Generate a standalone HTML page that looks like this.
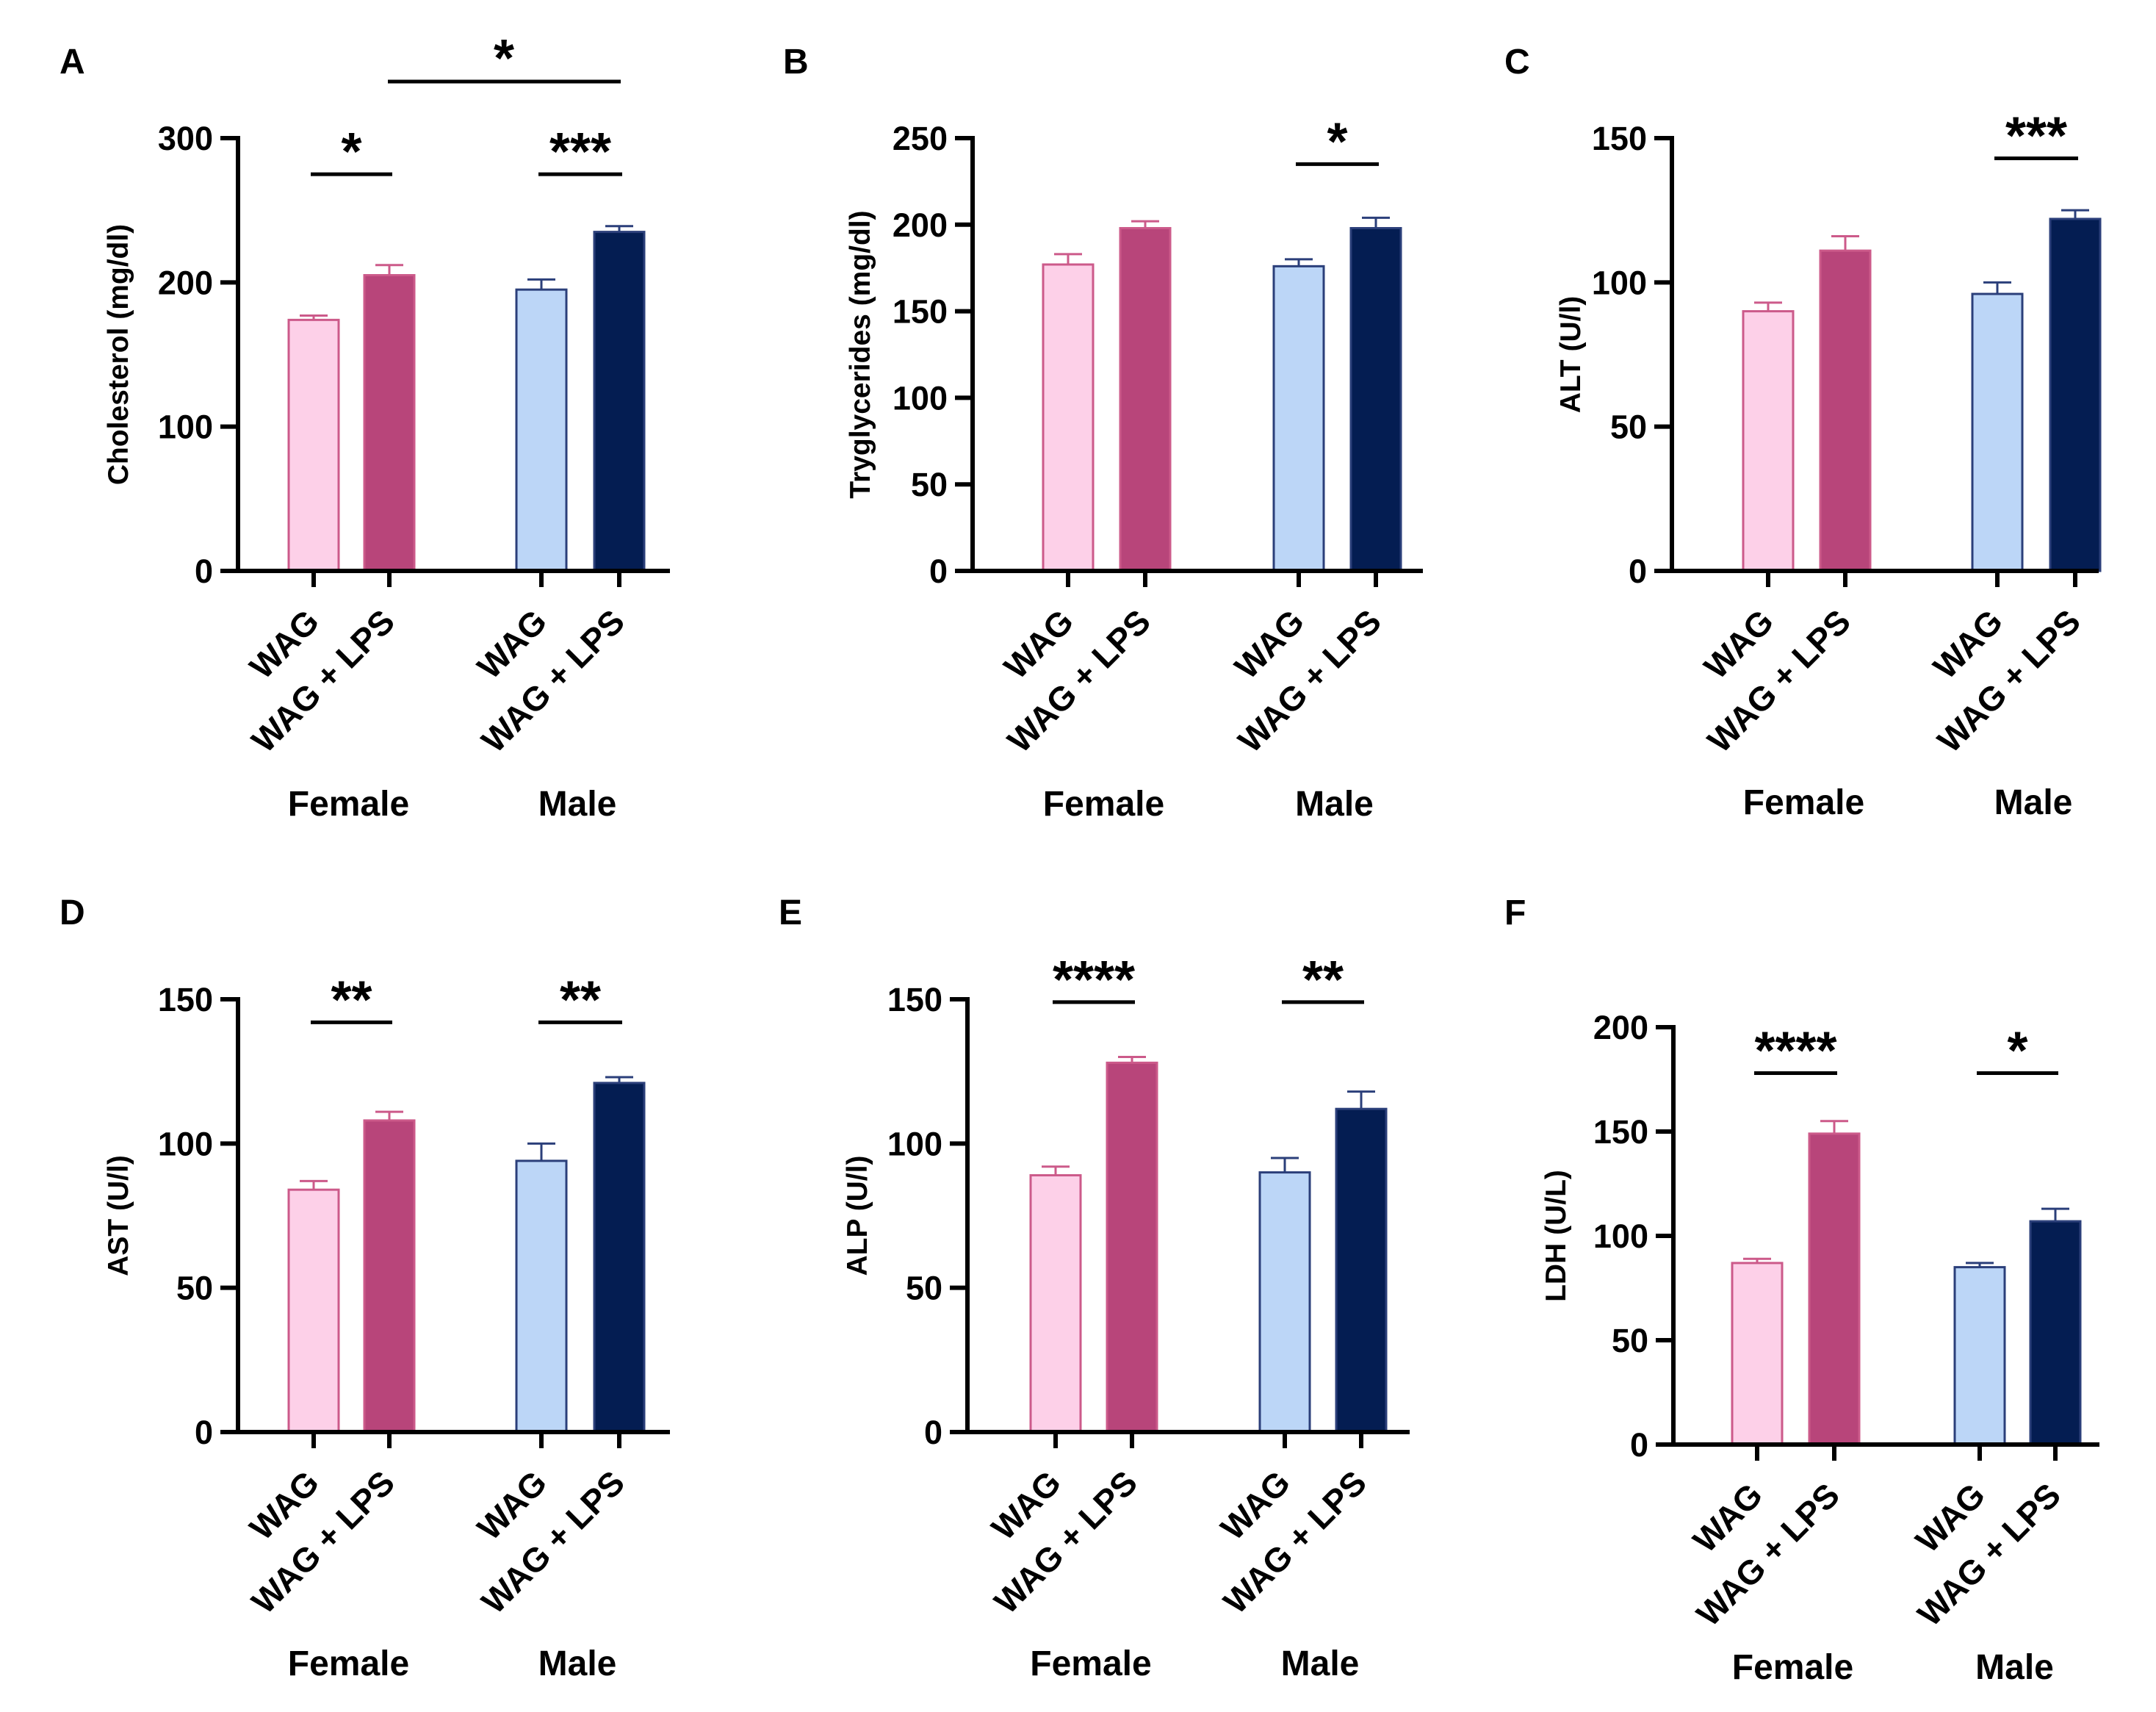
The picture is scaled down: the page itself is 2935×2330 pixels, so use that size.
<!DOCTYPE html>
<html><head><meta charset="utf-8"><style>
html,body{margin:0;padding:0;background:#fff;}
svg{display:block;}
text{font-family:"Liberation Sans",Arial,sans-serif;font-weight:bold;fill:#000;}
</style></head><body>
<svg id="fig" width="2935" height="2330" viewBox="0 0 2935 2330" xmlns="http://www.w3.org/2000/svg"></svg>
<script>
// ---- data ----
const categories = ["WAG", "WAG + LPS", "WAG", "WAG + LPS"];
const groups = ["Female", "Male"];
const panelLetters = ["A","B","C","D","E","F"];
const yTitles = ["Cholesterol (mg/dl)","Tryglycerides (mg/dl)","ALT (U/l)","AST (U/l)","ALP (U/l)","LDH (U/L)"];
const yMax = [300,250,150,150,150,200];
const yStep = [100,50,50,50,50,50];
const meansA = [174,205,195,235], errA = [3,7,7,4];
const meansB = [177,198,176,198], errB = [6,4,4,6];
const meansC = [90,111,96,122], errC = [3,5,4,3];
const meansD = [84,108,94,121], errD = [3,3,6,2];
const meansE = [89,128,90,112], errE = [3,2,5,6];
const meansF = [87,149,85,107], errF = [2,6,2,6];
// significance: [barFrom, barTo, valueLevel, label]
const sigA = [[0,1,275,"*"],[2,3,275,"***"]];
const sigB = [[2,3,235,"*"]];
const sigC = [[2,3,143,"***"]];
const sigD = [[0,1,142,"**"],[2,3,142,"**"]];
const sigE = [[0,1,149,"****"],[2,3,149,"**"]];
const sigF = [[0,1,178,"****"],[2,3,178,"*"]];
// ---- layout ----
const means=[meansA,meansB,meansC,meansD,meansE,meansF];
const errs=[errA,errB,errC,errD,errE,errF];
const sigs=[sigA,sigB,sigC,sigD,sigE,sigF];
const L=[
 {ax:324,top:188,bot:777,right:912,ticks:[427,530,737,843],lx:81,ly:100,grpY:1110,tOff:150},
 {ax:1324,top:188,bot:777,right:1937,ticks:[1454,1559,1768,1873],lx:1066,ly:100,grpY:1110,tOff:140},
 {ax:2276,top:188,bot:777,right:2857,ticks:[2407,2512,2719,2825],lx:2048,ly:100,grpY:1108,tOff:125},
 {ax:324,top:1360,bot:1949,right:912,ticks:[427,530,737,843],lx:81,ly:1258,grpY:2280,tOff:150},
 {ax:1317,top:1360,bot:1949,right:1919,ticks:[1437,1541,1749,1853],lx:1060,ly:1258,grpY:2280,tOff:137},
 {ax:2278,top:1398,bot:1966,right:2858,ticks:[2392,2497,2695,2798],lx:2048,ly:1258,grpY:2285,tOff:147}
];
const fills=["#fdd0e8","#b8457a","#bcd6f7","#041d52"];
const strokes=["#cc5a8a","#cc5a8a","#2b3f7a","#2b3f7a"];
const NS="http://www.w3.org/2000/svg";
const svg=document.getElementById('fig');
function mk(tag,attrs,parent,txt){const e=document.createElementNS(NS,tag);for(const k in attrs)e.setAttribute(k,attrs[k]);if(txt!==undefined)e.textContent=txt;(parent||svg).appendChild(e);return e;}
for(let p=0;p<6;p++){
 const l=L[p];
 const g=mk('g',{});
 
 
 const ys=v=>l.bot-(v/yMax[p])*(l.bot-l.top);
 const bw=68;
 const letter=mk('text',{x:l.lx,y:l.ly,'font-size':48},g,panelLetters[p]);
 
 
 for(let i=0;i<4;i++){
  const x=l.ticks[i],v=means[p][i],e=errs[p][i];
  const eb=mk('line',{x1:x,x2:x,y1:ys(v),y2:ys(v+e),stroke:strokes[i],'stroke-width':3},g);
  
  
  const cap=mk('line',{x1:x-19,x2:x+19,y1:ys(v+e),y2:ys(v+e),stroke:strokes[i],'stroke-width':3},g);
  
  
  const r=mk('rect',{x:x-bw/2,y:ys(v),width:bw,height:ys(0)-ys(v),fill:fills[i],stroke:strokes[i],'stroke-width':3},g);
  
  
  const t=mk('line',{x1:x,x2:x,y1:l.bot,y2:l.bot+22,stroke:'#000','stroke-width':6},g);
  
  
  const px=x+10,py=l.bot+72;
  const lab=mk('text',{x:px,y:py,'font-size':46,'text-anchor':'end',transform:`rotate(-45 ${px} ${py})`},g,categories[i]);
  
  
 }
 const ya=mk('line',{x1:l.ax,x2:l.ax,y1:l.top-3,y2:l.bot+3,stroke:'#000','stroke-width':6},g);
 
 
 const xa=mk('line',{x1:l.ax-3,x2:l.right,y1:l.bot,y2:l.bot,stroke:'#000','stroke-width':6},g);
 
 
 for(let v=0;v<=yMax[p];v+=yStep[p]){
  const tk=mk('line',{x1:l.ax-24,x2:l.ax,y1:ys(v),y2:ys(v),stroke:'#000','stroke-width':6},g);
  
  
  const tl=mk('text',{x:l.ax-34,y:ys(v)+16,'font-size':45,'text-anchor':'end'},g,String(v));
  
  
 }
 const tx=l.ax-l.tOff,ty=(l.top+l.bot)/2;
 const yt=mk('text',{x:tx,y:ty,'font-size':39,'text-anchor':'middle',transform:`rotate(-90 ${tx} ${ty})`},g,yTitles[p]);
 
 
 for(let k=0;k<2;k++){
  const cx=(l.ticks[2*k]+l.ticks[2*k+1])/2;
  const gl=mk('text',{x:cx-4,y:l.grpY,'font-size':48,'text-anchor':'middle'},g,groups[k]);
  
  
 }
 for(const s of sigs[p]){
  const x1=l.ticks[s[0]]-4,x2=l.ticks[s[1]]+4,y=ys(s[2]);
  const sl=mk('line',{x1:x1,x2:x2,y1:y,y2:y,stroke:'#000','stroke-width':5},g);
  
  
  const st=mk('text',{x:(x1+x2)/2,y:y-6,'font-size':72,'text-anchor':'middle'},g,s[3]);
  
  
 }
}
const cl=mk('line',{x1:528,x2:845,y1:111,y2:111,stroke:'#000','stroke-width':5});


const cs=mk('text',{x:686,y:104,'font-size':72,'text-anchor':'middle'},svg,'*');


</script>
</body></html>
